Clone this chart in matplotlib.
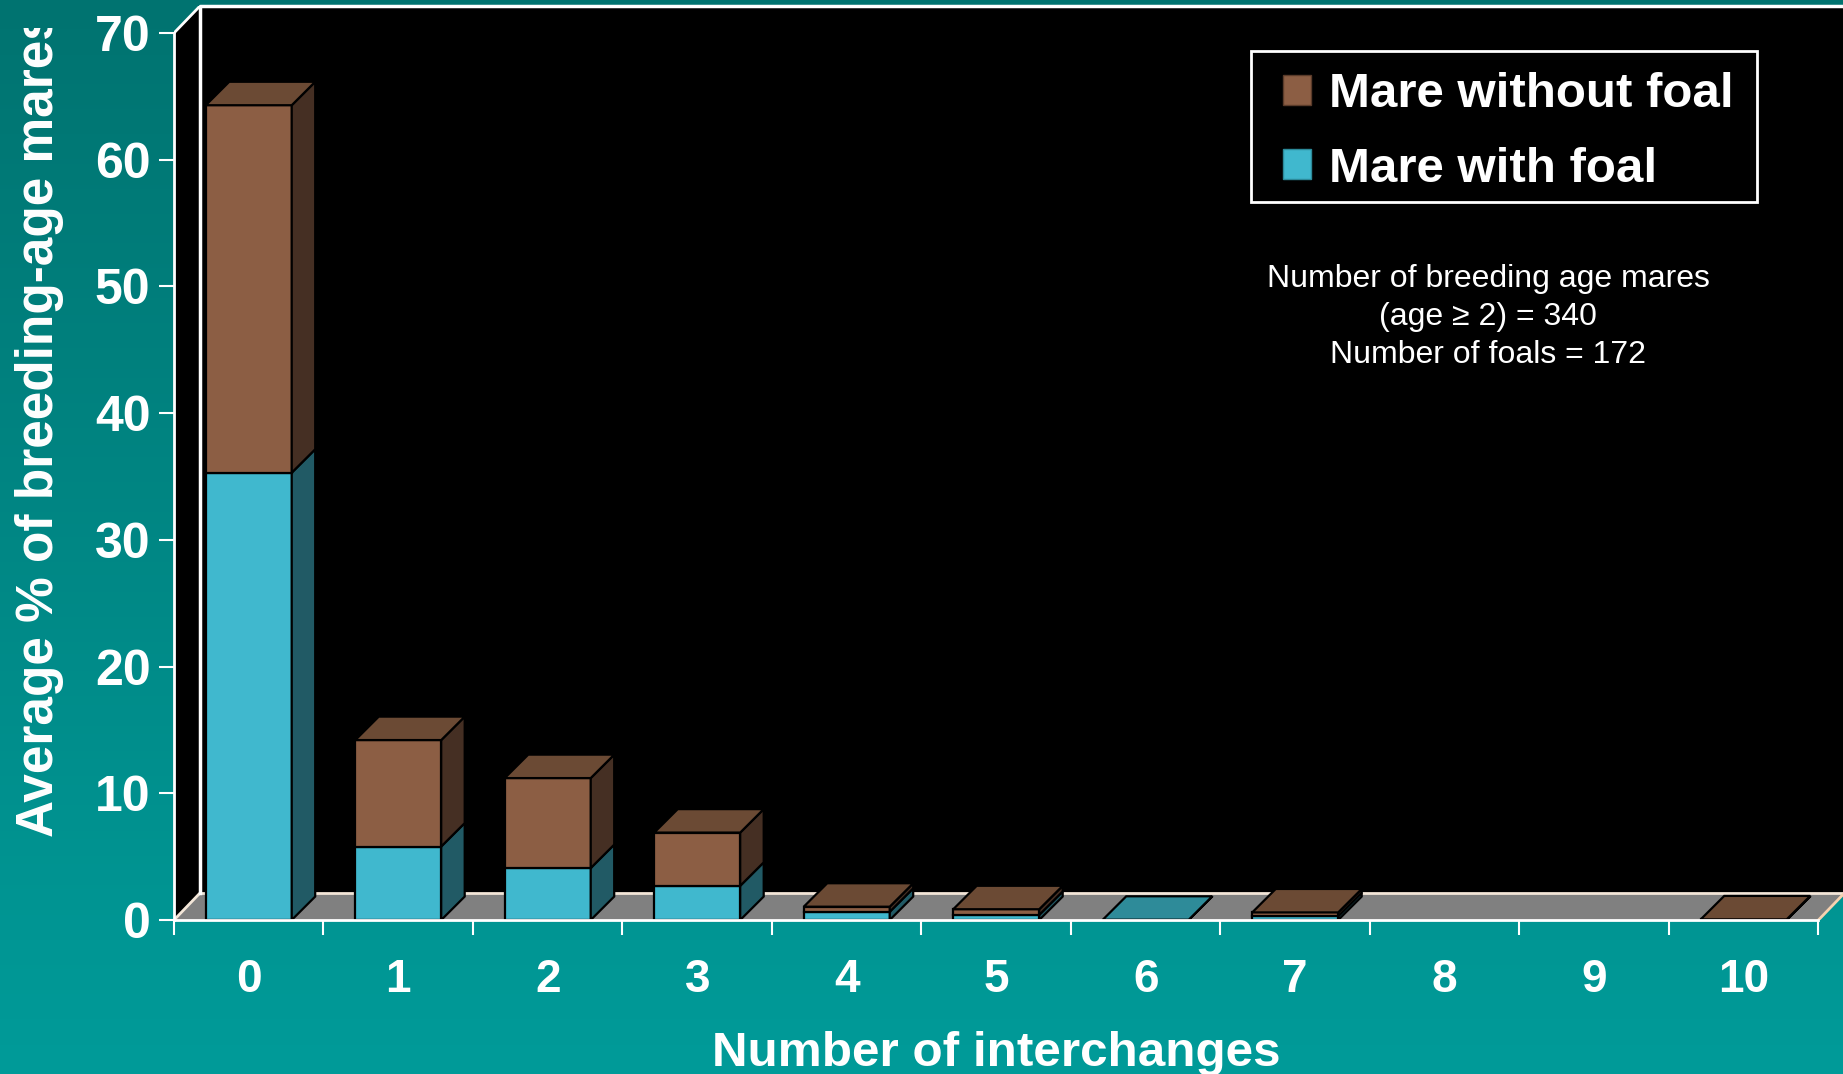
import matplotlib.pyplot as plt
import numpy as np
from matplotlib.patches import Polygon, Patch, Rectangle
from matplotlib.transforms import Bbox, TransformedBbox

categories = list(range(11))
with_foal = [35.3, 5.8, 4.1, 2.7, 0.65, 0.4, 0.02, 0.3, 0.0, 0.0, 0.0]
without_foal = [29.0, 8.4, 7.1, 4.2, 0.4, 0.45, 0.0, 0.3, 0.0, 0.0, 0.05]
y_ticks = [0, 10, 20, 30, 40, 50, 60, 70]
series_names = ['Mare without foal', 'Mare with foal']
note = 'Number of breeding age mares\n(age \u2265 2) = 340\nNumber of foals = 172'

# colours: front, side, top
brown = ('#8c5e44', '#452f23', '#6b4a34')
cyan = ('#40b8ce', '#215a65', '#2e8b99')

plt.rcParams['font.family'] = ['Liberation Sans', 'DejaVu Sans']

W, H = 1843, 1074
fig = plt.figure(figsize=(W / 100, H / 100), dpi=100)

# teal gradient background
bg = fig.add_axes([0, 0, 1, 1], zorder=-5)
top_c = np.array([0, 115, 112]) / 255
bot_c = np.array([0, 155, 153]) / 255
t = np.linspace(0, 1, 256)[:, None]
grad = top_c[None, :] * (1 - t) + bot_c[None, :] * t
bg.imshow(grad[:, None, :], aspect='auto', extent=[0, 1, 0, 1])
bg.axis('off')

# wall depth (data units) and bar depth
dxw, dyw = 0.174, 2.13
dxb, dyb = 0.157, 1.85
bw = 0.575

ax = fig.add_axes([174 / W, (H - 920) / H, (W - 174) / W, 914 / H])
ax.patch.set_visible(False)
ax.set_xlim(-0.5, 10.664)
ax.set_ylim(0, 70 + dyw)

# floor, left wall, back wall
ax.add_patch(Polygon([(-0.5 + dxw, dyw), (11, dyw), (11, 80), (-0.5 + dxw, 80)],
                     fc='black', ec='none', zorder=0))
ax.add_patch(Polygon([(-0.5, 0), (-0.5 + dxw, dyw), (-0.5 + dxw, 70 + dyw), (-0.5, 70)],
                     fc='black', ec='none', zorder=0))
ax.add_patch(Polygon([(-0.5, 0), (10.5, 0), (10.5 + dxw, dyw), (-0.5 + dxw, dyw)],
                     fc='#808080', ec='none', zorder=0.5))
ax.plot([-0.5 + dxw, 11], [dyw, dyw], color='#f3e6d8', lw=2, zorder=0.6)
ax.plot([-0.5, -0.5 + dxw], [0, dyw], color='#f3e6d8', lw=2, zorder=0.6)
ax.plot([10.5, 10.5 + dxw], [0, dyw], color='#f6d2b0', lw=2, zorder=0.6)
ax.plot([-0.5 + dxw, -0.5 + dxw, 11], [dyw, 70 + dyw, 70 + dyw], color='white', lw=2.5, zorder=0.6, clip_on=False)
ax.plot([-0.5, -0.5 + dxw], [70, 70 + dyw], color='white', lw=2, zorder=0.6)


def box(x, y0, y1, cols, draw_top):
    x0, x1 = x - bw / 2, x + bw / 2
    kw = dict(ec='black', lw=1.6, joinstyle='miter', zorder=2)
    if y1 > y0:
        ax.add_patch(Polygon([(x0, y0), (x1, y0), (x1, y1), (x0, y1)], fc=cols[0], **kw))
        ax.add_patch(Polygon([(x1, y0), (x1 + dxb, y0 + dyb), (x1 + dxb, y1 + dyb), (x1, y1)],
                             fc=cols[1], **kw))
    if draw_top:
        ax.add_patch(Polygon([(x0, y1), (x1, y1), (x1 + dxb, y1 + dyb), (x0 + dxb, y1 + dyb)],
                             fc=cols[2], **kw))


for c, a, b in zip(categories, with_foal, without_foal):
    if a > 0:
        box(c, 0, a, cyan, b == 0)
    if b > 0:
        box(c, a, a + b, brown, True)

# axes lines and ticks
for s in ['top', 'right']:
    ax.spines[s].set_visible(False)
for s in ['left', 'bottom']:
    ax.spines[s].set_color('white')
    ax.spines[s].set_linewidth(2)
ax.spines['left'].set_bounds(0, 70)
ax.spines['bottom'].set_bounds(-0.5, 10.5)

ax.set_yticks(y_ticks)
ax.set_yticklabels([str(v) for v in y_ticks])
ax.tick_params(axis='y', direction='out', length=11, width=1.5, color='white',
               labelcolor='white', labelsize=36, pad=6)
for lab in ax.get_yticklabels():
    lab.set_fontweight('bold')

ax.set_xticks(categories)
ax.set_xticklabels([str(c) for c in categories])
ax.set_xticks(np.arange(-0.5, 11, 1), minor=True)
ax.tick_params(axis='x', which='major', length=0, labelcolor='white', labelsize=33, pad=27)
ax.tick_params(axis='x', which='minor', direction='out', length=11, width=1.5, color='white')
for lab in ax.get_xticklabels():
    lab.set_fontweight('bold')

# axis titles
fig.text(996 / W, 1 - 1053 / H, 'Number of interchanges', color='white', fontsize=35.6,
         fontweight='bold', ha='center', va='center')
yl = fig.text(39 / W, 1 - 837 / H, 'Average % of breeding-age mares', color='white',
              fontsize=37, fontweight='bold', rotation=90, rotation_mode='anchor',
              ha='left', va='center')
yl.set_clip_box(TransformedBbox(Bbox([[0, 0], [1, 1 - 28 / H]]), fig.transFigure))
yl.set_clip_on(True)

# legend: frame drawn as its own box, entries placed inside it
fig.add_artist(Rectangle((1251 / W, 1 - 202 / H), 506 / W, 151 / H, transform=fig.transFigure,
                         fc='black', ec='white', lw=2, zorder=5))
handles = [Patch(fc=brown[0], ec='#5a3b2a'), Patch(fc=cyan[0], ec='#2c8a9a')]
leg = fig.legend(handles, series_names, loc='upper left',
                 bbox_to_anchor=(1283 / W, 1 - 72 / H), borderaxespad=0, borderpad=0,
                 frameon=False, handlelength=0.56, handleheight=0.56, handletextpad=0.38,
                 labelspacing=0.6, prop={'size': 35.5, 'weight': 'bold'})
leg.set_zorder(6)
for txt in leg.get_texts():
    txt.set_color('white')

fig.text(1488 / W, 1 - 317 / H, note, color='white', fontsize=23, ha='center',
         va='center', linespacing=1.36)

fig.savefig('out.png', dpi=100)
